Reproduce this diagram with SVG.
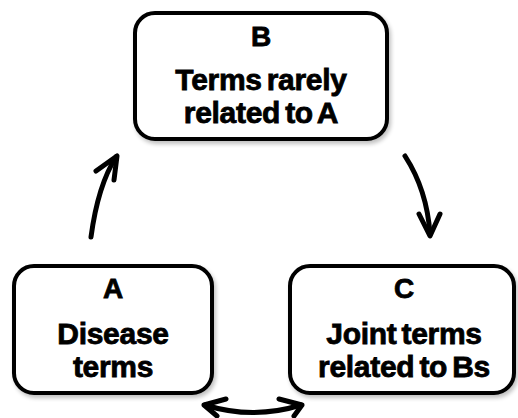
<svg xmlns="http://www.w3.org/2000/svg" width="518" height="418" viewBox="0 0 518 418">
<defs>
<filter id="sh" x="-10%" y="-10%" width="130%" height="130%">
<feGaussianBlur in="SourceAlpha" stdDeviation="2"/>
<feOffset dx="2" dy="3" result="b"/>
<feComponentTransfer><feFuncA type="linear" slope="0.25"/></feComponentTransfer>
<feMerge><feMergeNode/><feMergeNode in="SourceGraphic"/></feMerge>
</filter>
</defs>
<style>
.box{fill:#fff;stroke:#000;stroke-width:4;filter:url(#sh)}
.t{font-family:"Liberation Sans",Arial,sans-serif;font-weight:bold;fill:#000;stroke:#000;stroke-width:0.8;text-anchor:middle}
.big{font-size:30px;letter-spacing:-0.3px;word-spacing:-3px}
.let{font-size:28px}
.arr{fill:none;stroke:#000;stroke-width:5;stroke-linecap:round;stroke-linejoin:round}
</style>
<rect width="518" height="418" fill="#fff"/>
<g id="B">
<rect class="box" x="135" y="13" width="252" height="126" rx="20"/>
<text class="t let" x="261" y="46">B</text>
<text class="t big" x="261" y="90">Terms rarely</text>
<text class="t big" x="261" y="123">related to A</text>
</g>
<g id="A">
<rect class="box" x="14" y="266" width="198" height="127" rx="20"/>
<text class="t let" x="113" y="298">A</text>
<text class="t big" x="113" y="344">Disease</text>
<text class="t big" x="113" y="377">terms</text>
</g>
<g id="C">
<rect class="box" x="290" y="266" width="224" height="127" rx="20"/>
<text class="t let" x="404" y="298">C</text>
<text class="t big" x="404" y="344">Joint terms</text>
<text class="t big" x="404" y="377">related to Bs</text>
</g>
<g id="connectors">
<path class="arr" d="M91,237 Q98,185 116,157"/>
<path class="arr" d="M96,171 L117,156 L114,180"/>
<path class="arr" d="M405,156 Q427,190 430,234"/>
<path class="arr" d="M419,214 L430,236 L440,214"/>
<path class="arr" d="M205,405 Q253,420 301,405"/>
<path class="arr" d="M226,399 L204,405 L217,416"/>
<path class="arr" d="M279,399 L302,405 L294,416"/>
</g>
</svg>
